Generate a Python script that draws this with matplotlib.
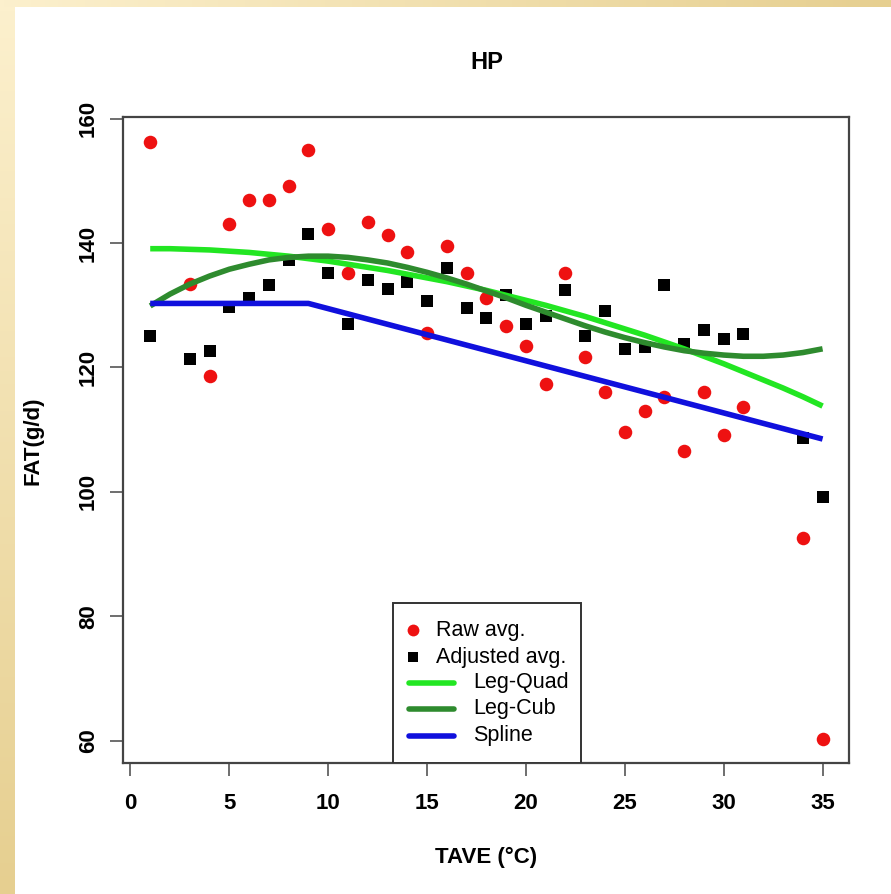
import matplotlib
matplotlib.use("Agg")
import matplotlib.pyplot as plt
import numpy as np
from matplotlib.colors import LinearSegmentedColormap
from matplotlib.patches import Rectangle

plt.rcParams['font.family'] = ['Liberation Sans', 'DejaVu Sans']

# temperatures with observations
tave = [1, 3, 4, 5, 6, 7, 8, 9, 10, 11, 12, 13, 14, 15, 16, 17, 18, 19, 20,
        21, 22, 23, 24, 25, 26, 27, 28, 29, 30, 31, 34, 35]
raw_avg = [156.3, 133.4, 118.6, 143.1, 147.0, 146.9, 149.2, 155.0, 142.3, 135.2,
           143.4, 141.3, 138.5, 125.5, 139.6, 135.2, 131.2, 126.6, 123.4, 117.3,
           135.2, 121.7, 116.0, 109.7, 113.0, 115.3, 106.5, 116.1, 109.1, 113.6,
           92.6, 60.2]
adj_avg = [125.1, 121.4, 122.6, 129.8, 131.1, 133.2, 137.3, 141.5, 135.2, 127.0,
           134.1, 132.7, 133.8, 130.7, 136.0, 129.5, 128.0, 131.7, 127.0, 128.2,
           132.5, 125.1, 129.1, 123.0, 123.3, 133.2, 123.8, 126.0, 124.5, 125.4,
           108.6, 99.1]

# fitted curves, one value per degree
curve_t = list(range(1, 36))
leg_quad = [139.1, 139.1, 139.0, 138.9, 138.7, 138.5, 138.2, 137.9, 137.5, 137.1,
            136.6, 136.1, 135.6, 135.0, 134.4, 133.8, 133.1, 132.4, 131.6, 130.8,
            130.0, 129.1, 128.2, 127.2, 126.2, 125.2, 124.1, 123.0, 121.8, 120.6,
            119.3, 118.0, 116.7, 115.3, 113.8]
leg_cub = [129.9, 131.8, 133.4, 134.7, 135.8, 136.6, 137.3, 137.7, 137.9, 137.9,
           137.7, 137.3, 136.8, 136.1, 135.3, 134.4, 133.4, 132.3, 131.2, 130.0,
           128.9, 127.8, 126.7, 125.7, 124.8, 124.0, 123.3, 122.7, 122.3, 122.0,
           121.8, 121.8, 122.0, 122.4, 123.0]
spline_t = [1, 9, 35]
spline = [130.3, 130.3, 108.5]

fig = plt.figure(figsize=(8.91, 8.94), dpi=100)
fig.patch.set_facecolor("white")

# decorative slide border (top and left strips)
light, dark = "#fcf0cd", "#e6cf90"
cmap = LinearSegmentedColormap.from_list("border", [light, dark])
top = fig.add_axes([0, 1 - 7 / 894, 1, 7 / 894])
top.imshow(np.linspace(0, 1, 200)[None, :], aspect="auto", cmap=cmap)
top.axis("off")
left = fig.add_axes([0, 0, 15 / 891, 1 - 7 / 894])
left.imshow(np.linspace(0, 1, 200)[:, None], aspect="auto", cmap=cmap)
left.axis("off")

ax = fig.add_axes([0.1384, 0.1465, 0.8150, 0.7221])
ax.scatter(tave, raw_avg, s=95, c="#ee1111", marker="o", linewidths=0, zorder=2)
ax.scatter(tave, adj_avg, s=75, c="black", marker="s", linewidths=0, zorder=2)
ax.plot(curve_t, leg_quad, color="#22e622", lw=4, solid_capstyle="butt", zorder=3)
ax.plot(curve_t, leg_cub, color="#2e8b2e", lw=4, solid_capstyle="butt", zorder=3)
ax.plot(spline_t, spline, color="#1010dd", lw=4, solid_capstyle="butt", zorder=3)

ax.set_xlim(1 - 1.36, 35 + 1.36)
ax.set_ylim(56.4, 160.2)
ax.set_xticks(range(0, 36, 5))
ax.set_yticks(range(60, 161, 20))
for sp in ax.spines.values():
    sp.set_color("#444444")
    sp.set_linewidth(1.6)
ax.tick_params(axis="both", length=9.5, width=1.2, color="#555555",
               labelsize=16, direction="out")
ax.tick_params(axis="x", pad=12)
ax.tick_params(axis="y", pad=8)
for lab in ax.get_xticklabels():
    lab.set_fontweight("bold")
for lab in ax.get_yticklabels():
    lab.set_fontweight("bold")
    lab.set_rotation(90)
    lab.set_va("center")

ax.text(0.5, 1.0844, "HP", transform=ax.transAxes, ha="center", va="center",
        fontsize=17, fontweight="bold")
ax.set_xlabel("TAVE (°C)", fontsize=16, fontweight="bold")
ax.xaxis.set_label_coords(0.5, -0.147)
ax.xaxis.label.set_va("center")
ax.set_ylabel("FAT(g/d)", fontsize=16, fontweight="bold")
ax.yaxis.set_label_coords(-0.1243, 0.5)
ax.yaxis.label.set_va("center")

# legend drawn as in the original figure
ax.add_patch(Rectangle((0.3714, 0.0), 0.6300 - 0.3714, 0.248, transform=ax.transAxes,
                       facecolor="white", edgecolor="#333333", lw=1.4, zorder=5))
rows = [0.206, 0.164, 0.124, 0.084, 0.042]
ax.plot([0.399], [rows[0]], "o", color="#ee1111", ms=8.5, mew=0,
        transform=ax.transAxes, zorder=6)
ax.plot([0.399], [rows[1]], "s", color="black", ms=7.5, mew=0,
        transform=ax.transAxes, zorder=6)
for yy, col in zip(rows[2:], ["#22e622", "#2e8b2e", "#1010dd"]):
    ax.plot([0.394, 0.455], [yy, yy], color=col, lw=4, transform=ax.transAxes,
            zorder=6, solid_capstyle="round")
labels = ["Raw avg.", "Adjusted avg.", "Leg-Quad", "Leg-Cub", "Spline"]
xs = [0.4306, 0.4306, 0.4816, 0.4816, 0.4816]
for x, yy, lab in zip(xs, rows, labels):
    ax.text(x, yy, lab, transform=ax.transAxes, ha="left", va="center",
            fontsize=15.5, zorder=6)

fig.savefig("out.png", dpi=100)
